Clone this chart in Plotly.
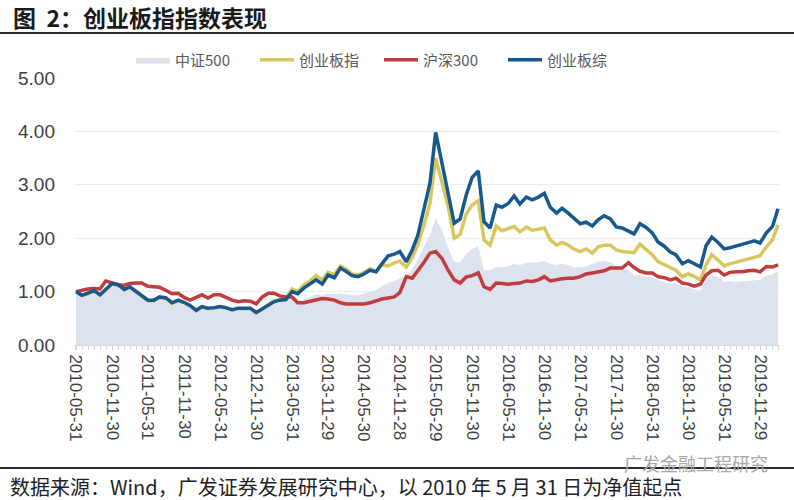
import pandas as pd
import plotly.graph_objects as go

# monthly observation dates (last business day of each month)
try:
    dates = pd.date_range("2010-05-31", periods=118, freq="BME").strftime("%Y-%m-%d").tolist()
except Exception:
    dates = pd.date_range("2010-05-31", periods=118, freq="BM").strftime("%Y-%m-%d").tolist()

tick_labels = [
    "2010-05-31", "2010-11-30", "2011-05-31", "2011-11-30", "2012-05-31",
    "2012-11-30", "2013-05-31", "2013-11-29", "2014-05-30", "2014-11-28",
    "2015-05-29", "2015-11-30", "2016-05-31", "2016-11-30", "2017-05-31",
    "2017-11-30", "2018-05-31", "2018-11-30", "2019-05-31", "2019-11-29",
]

csi500 = [
    0.98, 0.91, 0.95, 0.99, 0.92, 1.02, 1.11, 1.09, 1.01, 1.05,
    0.97, 0.89, 0.81, 0.81, 0.86, 0.84, 0.76, 0.80, 0.76, 0.71,
    0.63, 0.69, 0.66, 0.67, 0.69, 0.67, 0.63, 0.66, 0.66, 0.65,
    0.59, 0.65, 0.73, 0.77, 0.80, 0.83, 0.88, 0.78, 0.86, 0.90,
    0.95, 0.92, 0.96, 0.95, 0.97, 0.95, 0.93, 0.93, 0.96, 1.00,
    1.03, 1.10, 1.16, 1.20, 1.24, 1.30, 1.42, 1.60, 1.85, 2.05,
    2.38, 2.15, 1.82, 1.55, 1.55, 1.70, 1.80, 1.85, 1.40, 1.40,
    1.46, 1.46, 1.48, 1.52, 1.50, 1.54, 1.54, 1.55, 1.57, 1.52,
    1.50, 1.52, 1.50, 1.45, 1.46, 1.47, 1.52, 1.56, 1.58, 1.55,
    1.48, 1.42, 1.40, 1.30, 1.30, 1.28, 1.26, 1.22, 1.18, 1.14,
    1.15, 1.09, 1.08, 1.04, 1.02, 1.22, 1.30, 1.28, 1.18, 1.20,
    1.18, 1.19, 1.20, 1.21, 1.22, 1.30, 1.32, 1.38,
]

chinext = [
    1.00, 0.93, 0.96, 1.01, 0.93, 1.04, 1.14, 1.12, 1.03, 1.08,
    0.99, 0.91, 0.83, 0.83, 0.89, 0.87, 0.78, 0.83, 0.79, 0.73,
    0.64, 0.71, 0.68, 0.69, 0.71, 0.69, 0.65, 0.68, 0.68, 0.68,
    0.60, 0.67, 0.76, 0.82, 0.86, 0.88, 1.05, 1.00, 1.13, 1.20,
    1.30, 1.22, 1.36, 1.32, 1.48, 1.42, 1.33, 1.31, 1.36, 1.43,
    1.38, 1.50, 1.48, 1.54, 1.57, 1.46, 1.64, 1.87, 2.25, 2.65,
    3.50, 3.05, 2.60, 2.00, 2.07, 2.45, 2.62, 2.70, 1.97, 1.87,
    2.23, 2.14, 2.18, 2.22, 2.12, 2.21, 2.15, 2.17, 2.19, 1.97,
    1.87, 1.92, 1.87, 1.80, 1.75, 1.80, 1.72, 1.84, 1.87, 1.87,
    1.78, 1.75, 1.74, 1.73, 1.89, 1.79, 1.69, 1.56, 1.50, 1.44,
    1.40, 1.28, 1.33, 1.28, 1.22, 1.50, 1.69, 1.59, 1.48, 1.52,
    1.55, 1.59, 1.62, 1.65, 1.67, 1.84, 1.97, 2.25,
]

hs300 = [
    1.00, 1.03, 1.05, 1.06, 1.05, 1.20, 1.17, 1.13, 1.12, 1.15,
    1.16, 1.16, 1.10, 1.09, 1.08, 1.02, 0.96, 0.97, 0.89, 0.84,
    0.90, 0.94, 0.88, 0.94, 0.94, 0.89, 0.84, 0.81, 0.83, 0.82,
    0.77, 0.90, 0.97, 0.97, 0.92, 0.90, 0.90, 0.79, 0.79, 0.82,
    0.84, 0.87, 0.86, 0.84, 0.79, 0.77, 0.77, 0.77, 0.77, 0.79,
    0.83, 0.86, 0.88, 0.90, 0.98, 1.28, 1.25, 1.38, 1.55, 1.72,
    1.75, 1.62, 1.40, 1.22, 1.16, 1.27, 1.30, 1.35, 1.09, 1.04,
    1.16, 1.15, 1.14, 1.15, 1.16, 1.20, 1.19, 1.22, 1.28, 1.20,
    1.23, 1.24, 1.25, 1.25, 1.28, 1.33, 1.35, 1.37, 1.39, 1.44,
    1.44, 1.44, 1.54, 1.45, 1.38, 1.35, 1.35, 1.28, 1.26, 1.22,
    1.25, 1.16, 1.14, 1.10, 1.14, 1.31, 1.39, 1.40, 1.31, 1.36,
    1.37, 1.37, 1.39, 1.40, 1.37, 1.47, 1.46, 1.50,
]

chinext_comp = [
    1.00, 0.93, 0.97, 1.02, 0.94, 1.05, 1.15, 1.13, 1.04, 1.09,
    1.00, 0.92, 0.84, 0.84, 0.90, 0.88, 0.79, 0.84, 0.80, 0.74,
    0.65, 0.72, 0.69, 0.70, 0.72, 0.70, 0.66, 0.69, 0.69, 0.69,
    0.61, 0.68, 0.75, 0.81, 0.84, 0.85, 1.00, 0.96, 1.07, 1.14,
    1.22, 1.14, 1.31, 1.26, 1.44, 1.38, 1.30, 1.28, 1.33, 1.40,
    1.37, 1.52, 1.67, 1.70, 1.75, 1.56, 1.78, 2.05, 2.55, 3.03,
    3.98, 3.40, 2.90, 2.28, 2.36, 2.80, 3.14, 3.26, 2.31, 2.19,
    2.62, 2.58, 2.65, 2.79, 2.64, 2.77, 2.72, 2.77, 2.84, 2.58,
    2.47, 2.56, 2.47, 2.38, 2.27, 2.30, 2.23, 2.35, 2.42, 2.36,
    2.21, 2.19, 2.13, 2.08, 2.27, 2.20, 2.10, 1.93, 1.85, 1.74,
    1.69, 1.52, 1.58, 1.52, 1.46, 1.86, 2.02, 1.92, 1.80, 1.82,
    1.85, 1.88, 1.92, 1.95, 1.91, 2.10, 2.22, 2.55,
]

y_ticks = [0, 1, 2, 3, 4, 5]

FONT = "Liberation Sans, Arial, Noto Sans CJK SC, sans-serif"
CJK = "Noto Sans CJK SC, Liberation Sans, sans-serif"

fig = go.Figure()
fig.add_trace(go.Scatter(
    x=dates, y=csi500, name="中证500", mode="lines",
    fill="tozeroy", fillcolor="#dce3ef",
    line=dict(width=0, color="#dce3ef"),
))
fig.add_trace(go.Scatter(
    x=dates, y=chinext, name="创业板指", mode="lines",
    line=dict(width=3.5, color="#d8c75e"),
))
fig.add_trace(go.Scatter(
    x=dates, y=hs300, name="沪深300", mode="lines",
    line=dict(width=3.5, color="#c23b3e"),
))
fig.add_trace(go.Scatter(
    x=dates, y=chinext_comp, name="创业板综", mode="lines",
    line=dict(width=3.5, color="#17598f"),
))

L, R, T, B = 74, 14, 78, 155
W, H = 794, 500
pw, ph = W - L - R, H - T - B

def px(xp):
    return (xp - L) / pw

def py(yp):
    return (H - B - yp) / ph

fig.update_layout(
    width=W, height=H,
    margin=dict(l=L, r=R, t=T, b=B, pad=0),
    paper_bgcolor="white", plot_bgcolor="white",
    font=dict(family=FONT, color="#404040", size=14),
    showlegend=True,
    legend=dict(
        orientation="h", x=px(131), xanchor="left", y=py(60), yanchor="middle",
        font=dict(family=CJK, size=15, color="#595959"),
        itemwidth=34, entrywidth=75, entrywidthmode="pixels",
        bgcolor="rgba(0,0,0,0)", traceorder="normal",
    ),
    xaxis=dict(
        type="date",
        range=["2010-05-21", "2020-03-09"],
        tickmode="array", tickvals=tick_labels, ticktext=tick_labels,
        tickangle=90, tickfont=dict(size=17, color="#404040", family=FONT),
        showgrid=False, showline=True, linecolor="#d9d9d9", linewidth=1,
        ticks="outside", ticklen=5, tickcolor="#d9d9d9",
        minor=dict(ticks="outside", ticklen=4, tickcolor="#d9d9d9", dtick="M1", showgrid=False),
        zeroline=False,
    ),
    yaxis=dict(
        range=[0, 5], tickvals=y_ticks, tickformat=".2f",
        tickfont=dict(size=19, color="#404040", family=FONT),
        showgrid=True, gridcolor="#ececec", gridwidth=1,
        zeroline=False, showline=False, ticks="",
        ticklabelstandoff=18,
    ),
)

shapes = [
    dict(type="line", xref="paper", yref="paper", x0=px(0), x1=px(W), y0=py(33), y1=py(33),
         line=dict(color="#2b2b2b", width=2)),
    dict(type="line", xref="paper", yref="paper", x0=px(0), x1=px(W), y0=py(468), y1=py(468),
         line=dict(color="#2b2b2b", width=2)),
]
fig.update_layout(shapes=shapes)

fig.add_annotation(
    xref="paper", yref="paper", x=px(11), y=py(17), xanchor="left", yanchor="middle",
    text="<b>图&nbsp;&nbsp;2：创业板指指数表现</b>", showarrow=False,
    font=dict(family=CJK, size=23, color="#1a1a1a"),
)
fig.add_annotation(
    xref="paper", yref="paper", x=px(8), y=py(486), xanchor="left", yanchor="middle",
    text="数据来源：Wind，广发证券发展研究中心，以 2010 年 5 月 31 日为净值起点", showarrow=False,
    font=dict(family=CJK, size=20, color="#222222"),
)
fig.add_annotation(
    xref="paper", yref="paper", x=px(770), y=py(463), xanchor="right", yanchor="middle",
    text="广发金融工程研究", showarrow=False,
    font=dict(family=CJK, size=18, color="#a8a8a8"),
)

fig.write_html("out.html", config={"displayModeBar": False},
               post_script="document.body.style.margin='0px';")
